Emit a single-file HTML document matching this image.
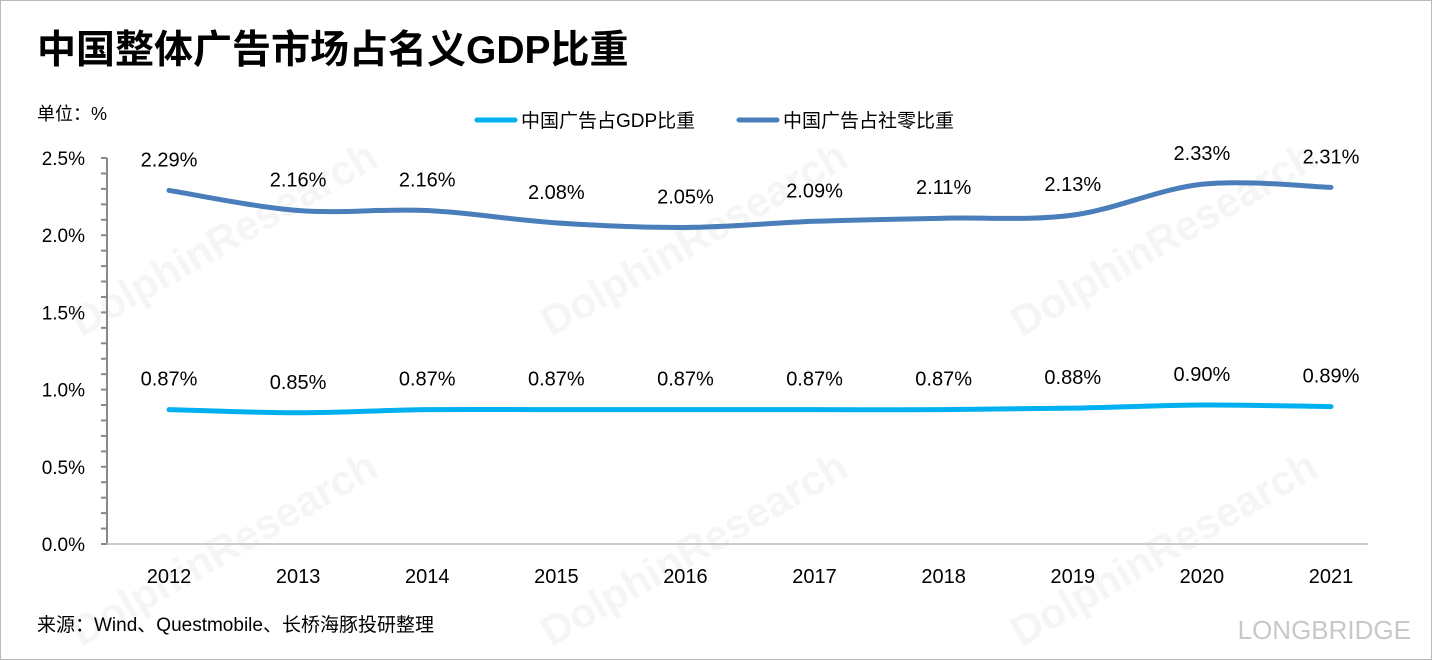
<!DOCTYPE html>
<html><head><meta charset="utf-8"><style>
body{margin:0;background:#fff;}
#wrap{position:relative;width:1430px;height:658px;border:1px solid #bbb;overflow:hidden;font-family:"Liberation Sans","Noto Sans CJK SC",sans-serif;}
</style></head><body>
<div id="wrap">
<svg id="chart" width="1430" height="658"></svg>
</div>
<script>
const years=["2012","2013","2014","2015","2016","2017","2018","2019","2020","2021"];
const gdpShare=[0.87,0.85,0.87,0.87,0.87,0.87,0.87,0.88,0.90,0.89];
const retailShare=[2.29,2.16,2.16,2.08,2.05,2.09,2.11,2.13,2.33,2.31];
const yTicks=[0,0.5,1.0,1.5,2.0,2.5];
const yTickLabels=["0.0%","0.5%","1.0%","1.5%","2.0%","2.5%"];

const svg=document.getElementById('chart');
const NS="http://www.w3.org/2000/svg";
function el(t,a,p){const e=document.createElementNS(NS,t);for(const k in a)e.setAttribute(k,a[k]);(p||svg).appendChild(e);return e;}
const x0=107,x1=1367,yBase=543,yTop=157,ymax=2.5;
const xFirst=168,xLast=1330;
const X=i=>xFirst+(xLast-xFirst)*i/(years.length-1);
const Y=v=>yBase-(v/ymax)*(yBase-yTop);

// watermarks
[[230,250],[700,250],[1170,250],[230,560],[700,560],[1170,560]].forEach(p=>{
 const w=el('text',{x:p[0],y:p[1],'font-size':42,'font-weight':'bold',fill:'#f5f5f5',transform:`rotate(-30 ${p[0]} ${p[1]})`,'text-anchor':'middle'});
 w.textContent='DolphinResearch';
 
 
});

// title
const t=el('text',{x:36,y:62,'font-size':39,'font-weight':'bold',fill:'#000'});
t.textContent='中国整体广告市场占名义GDP比重';


const u=el('text',{x:36,y:119,'font-size':18,fill:'#000'});
u.textContent='单位：%';



// legend
const leg=[["中国广告占GDP比重","#00B0F0",476],["中国广告占社零比重","#4A7EBB",738]];
leg.forEach(l=>{
 const g=el('g',{});
 
 
 el('line',{x1:l[2],y1:119,x2:l[2]+38,y2:119,stroke:l[1],'stroke-width':5,'stroke-linecap':'round'},g);
 const tx=el('text',{x:l[2]+44,y:126,'font-size':19,fill:'#000'},g);tx.textContent=l[0];
});

// y axis
const ya=el('g',{});


el('line',{x1:x0-1,y1:yTop,x2:x0-1,y2:yBase,stroke:'#888','stroke-width':2},ya);
for(let v=0;v<=ymax+1e-9;v+=0.1){el('line',{x1:x0-7,y1:Y(v),x2:x0-1,y2:Y(v),stroke:'#888','stroke-width':2},ya);}
yTicks.forEach((v,i)=>{const tx=el('text',{x:84,y:Y(v)+7,'font-size':19,'text-anchor':'end',fill:'#000'},ya);tx.textContent=yTickLabels[i];});
// x axis
const xa=el('g',{});


el('line',{x1:x0-1,y1:yBase,x2:x1,y2:yBase,stroke:'#ccc','stroke-width':2},xa);
years.forEach((yr,i)=>{const tx=el('text',{x:X(i),y:582,'font-size':20,'text-anchor':'middle',fill:'#000'},xa);tx.textContent=yr;});

function smooth(vals){
 const p=vals.map((v,i)=>[X(i),Y(v)]);
 let d=`M${p[0][0]},${p[0][1]}`;
 for(let i=0;i<p.length-1;i++){
  const a=p[i-1]||p[i],b=p[i],c=p[i+1],e=p[i+2]||c;
  const k=1/6;
  d+=` C${b[0]+(c[0]-a[0])*k},${b[1]+(c[1]-a[1])*k} ${c[0]-(e[0]-b[0])*k},${c[1]-(e[1]-b[1])*k} ${c[0]},${c[1]}`;
 }
 return d;
}
[[gdpShare,'#00B0F0','gdp-share-line'],[retailShare,'#4A7EBB','retail-share-line']].forEach(s=>{
 const path=el('path',{d:smooth(s[0]),fill:'none',stroke:s[1],'stroke-width':5,'stroke-linecap':'round'});
 
 
 s[0].forEach((v,i)=>{
  const tx=el('text',{x:X(i),y:Y(v)-24,'font-size':20,'text-anchor':'middle',fill:'#000'});
  tx.textContent=v.toFixed(2)+'%';
  
  
 });
});

const src=el('text',{x:36,y:630,'font-size':19,fill:'#000'});
src.textContent='来源：Wind、Questmobile、长桥海豚投研整理';


const lb=el('text',{x:1410,y:638,'font-size':26,fill:'#c8c8c8','text-anchor':'end'});
lb.textContent='LONGBRIDGE';


</script>
</body></html>
